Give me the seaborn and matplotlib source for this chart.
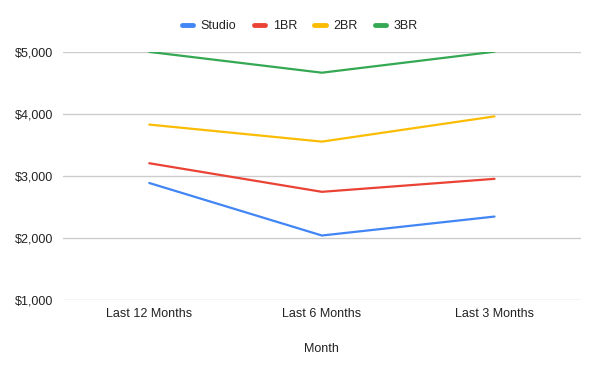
import matplotlib
matplotlib.use("Agg")
import matplotlib.pyplot as plt
import seaborn as sns
import pandas as pd
from matplotlib.ticker import FuncFormatter
from matplotlib.lines import Line2D

months = ["Last 12 Months", "Last 6 Months", "Last 3 Months"]
studio = [2885, 2040, 2345]
br1 = [3203, 2743, 2952]
br2 = [3825, 3551, 3957]
br3 = [4995, 4660, 4998]
series_names = ["Studio", "1BR", "2BR", "3BR"]
colors = ["#4285F4", "#EA4335", "#FBBC04", "#34A853"]

rows = []
for name, vals in zip(series_names, [studio, br1, br2, br3]):
    for m, v in zip(months, vals):
        rows.append({"Month": m, "Series": name, "Value": v})
df = pd.DataFrame(rows)

sns.set_theme(style="white")
plt.rcParams["font.family"] = ["Liberation Sans", "DejaVu Sans"]

fig = plt.figure(figsize=(6, 3.71), dpi=100)
ax = fig.add_axes([0.105, 0.191, 0.863, 0.670])

sns.lineplot(data=df, x="Month", y="Value", hue="Series", hue_order=series_names,
             palette=colors, linewidth=1.6, ax=ax, sort=False, legend=False)

ax.set_xlim(-0.5, 2.5)
ax.set_ylim(1000, 5000)
ax.set_yticks([1000, 2000, 3000, 4000, 5000])
ax.yaxis.set_major_formatter(FuncFormatter(lambda v, p: f"${v:,.0f}"))
ax.grid(axis="y", color="#cccccc", linewidth=1)
ax.set_axisbelow(True)
for s in ax.spines.values():
    s.set_visible(False)
ax.tick_params(axis="both", length=0, labelsize=9, colors="#222222", pad=6)
ax.tick_params(axis="y", pad=7)
ax.set_ylabel("")
ax.set_xlabel("Month", fontsize=9, color="#222222", labelpad=16)

handles = [Line2D([0], [0], color=c, linewidth=3.5, solid_capstyle="round") for c in colors]
fig.legend(handles, series_names, loc="center", bbox_to_anchor=(0.5, 0.93), ncol=4,
           frameon=False, fontsize=9, handlelength=0.9, handletextpad=0.6,
           columnspacing=1.4, labelcolor="#222222")

fig.savefig("out.png", dpi=100)
